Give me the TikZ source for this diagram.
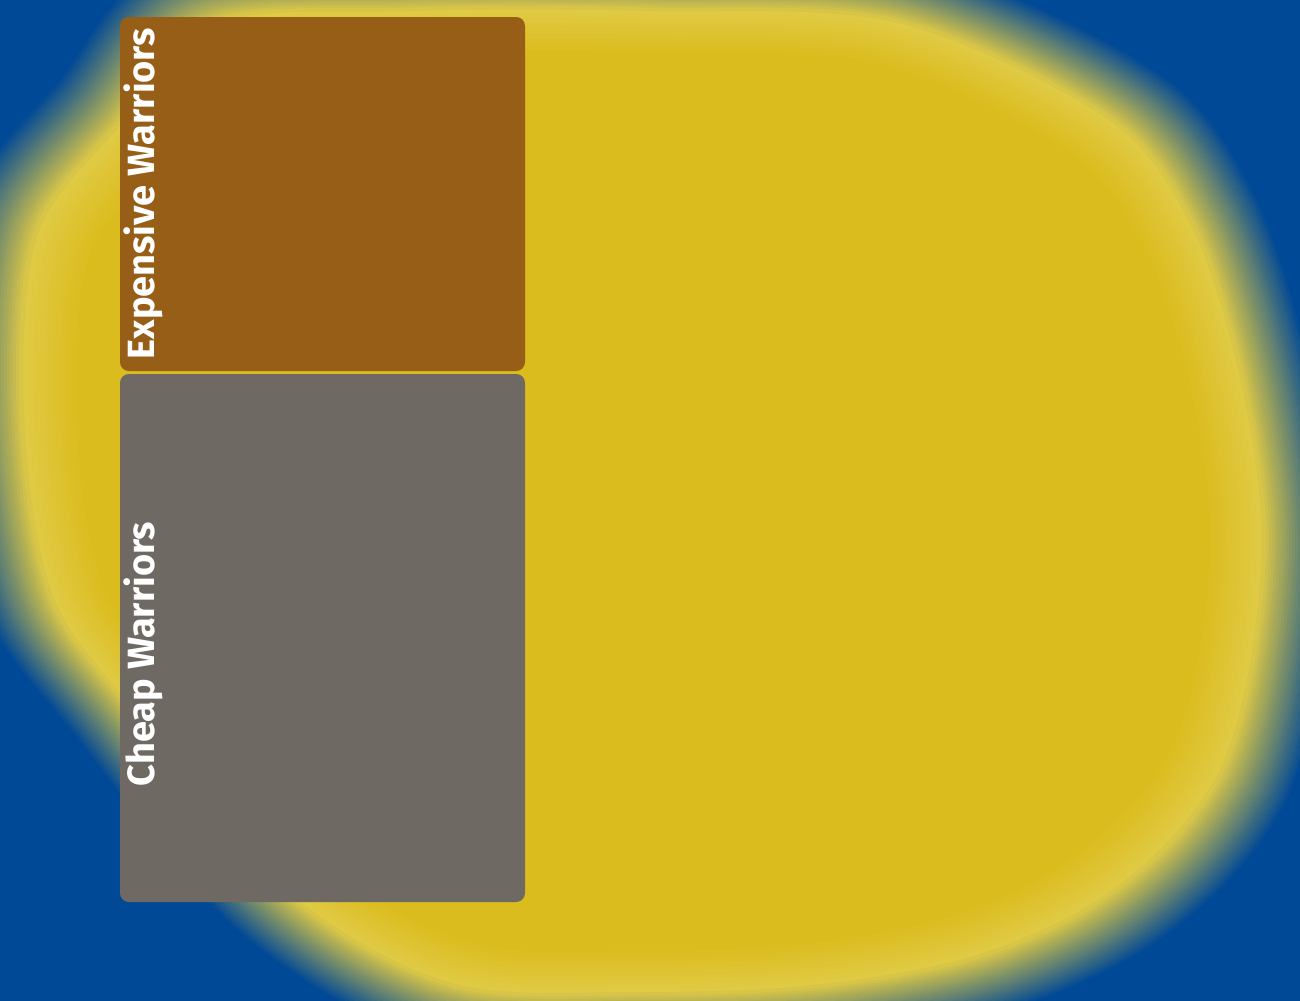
\documentclass[tikz,border=0pt]{standalone}
\usepackage{fontspec}
\newfontfamily\warfont{Fira Sans}
\usetikzlibrary{positioning}

\definecolor{bgblue}{HTML}{004996}
\definecolor{ringyellow}{HTML}{E0CA44}
\definecolor{coreyellow}{HTML}{DBBC1E}
\definecolor{expbrown}{HTML}{965E17}
\definecolor{cheapgrey}{HTML}{6E6962}

\begin{document}
\begin{tikzpicture}[
  x=0.1mm, y=-0.1mm,
  font=\warfont\bfseries\fontsize{10.8}{13}\selectfont,
  blob/.style={draw=none},
  panel/.style={
    draw=none,
    rounded corners=2.5pt,
    inner sep=0pt,
    minimum width=40.5mm
  },
  tag/.style={
    rotate=90,
    anchor=west,
    inner sep=0pt,
    text=white
  }
]

\useasboundingbox (0,0) rectangle (1300,1000);
\clip (0,0) rectangle (1300,1000);
\fill[bgblue] (-20,-20) rectangle (1320,1020);

% soft yellow blob, built up from the blue edge inwards
\def\blobpath{plot[smooth cycle, tension=0.55] coordinates {
  (190,2) (400,-12) (650,-12) (907,0) (1127,100) (1215,210) (1265,360)
  (1290,520) (1280,660) (1250,775) (1190,860) (1100,930) (980,980)
  (820,1008) (640,1015) (440,1005) (265,905) (110,720) (25,600)
  (-5,420) (8,225) (95,108)}}
\foreach \i in {0,...,24} {
  \pgfmathsetmacro\s{1.07-0.0045*\i}
  \pgfmathsetmacro\m{4*\i}
  \begin{scope}[shift={(650,500)}, scale=\s, shift={(-650,-500)}]
    \fill[blob, ringyellow!\m!bgblue] \blobpath;
  \end{scope}
}
\foreach \i in {0,...,10} {
  \pgfmathsetmacro\s{0.955-0.008*\i}
  \pgfmathsetmacro\m{10*\i}
  \begin{scope}[shift={(650,500)}, scale=\s, shift={(-650,-500)}]
    \fill[blob, coreyellow!\m!ringyellow] \blobpath;
  \end{scope}
}

\node[panel, fill=expbrown, minimum height=35.4mm] (expensive) at (322.5,194) {};
\node[panel, fill=cheapgrey, minimum height=52.8mm] (cheap) at (322.5,638) {};

\node[tag] (expensivetag) at (143,360) {Expensive Warriors};
\node[tag] (cheaptag) at (143,787) {Cheap Warriors};

\end{tikzpicture}
\end{document}
